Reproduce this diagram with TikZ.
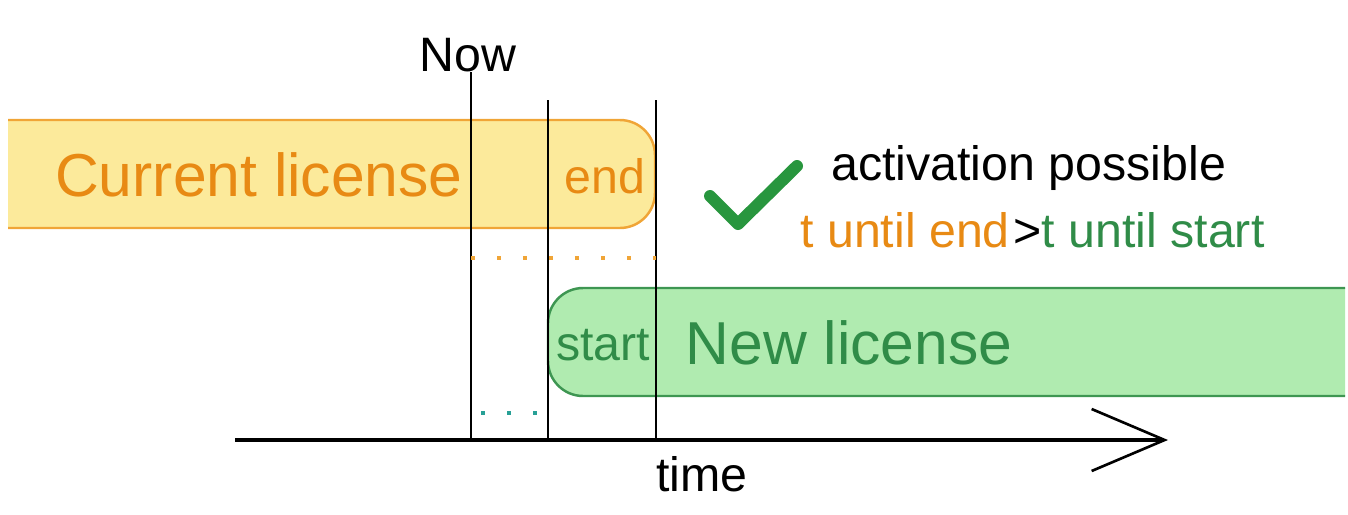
\documentclass[tikz,border=0pt]{standalone}
\usepackage{fontspec}
\setmainfont{Liberation Sans}
\usetikzlibrary{arrows.meta}
\definecolor{curfill}{RGB}{252,234,155}
\definecolor{curline}{RGB}{240,165,55}
\definecolor{curtext}{RGB}{232,138,20}
\definecolor{newfill}{RGB}{176,235,176}
\definecolor{newline}{RGB}{62,150,82}
\definecolor{newtext}{RGB}{48,140,72}
\definecolor{okgreen}{RGB}{40,150,62}
\definecolor{dotteal}{RGB}{40,160,150}

\begin{document}
\begin{tikzpicture}[x=0.02cm, y=-0.02cm,
  big/.style={font=\fontsize{34.5}{40}\selectfont, inner sep=0pt},
  small/.style={font=\fontsize{27.5}{32}\selectfont, inner sep=0pt},
  timeline/.style={line width=1.5pt, black},
  dots/.style={line width=2pt, dash pattern=on 0.08cm off 0.44cm}]
\useasboundingbox (0,0) rectangle (1348,514);

% license bars
\fill[curfill] (8,120) [rounded corners=20] -- (655,120) -- (655,228) [sharp corners] -- (8,228) -- cycle;
\draw[curline, line width=1.4pt] (8,120) [rounded corners=20] -- (655,120) -- (655,228) [sharp corners] -- (8,228);
\fill[newfill] (1345,288) [rounded corners=20] -- (548,288) -- (548,396) [sharp corners] -- (1345,396) -- cycle;
\draw[newline, line width=1.4pt] (1345,288) [rounded corners=20] -- (548,288) -- (548,396) [sharp corners] -- (1345,396);

\node[big, text=curtext] (cur) at (259,175) {Current license};
\node[small, text=curtext] (end) at (605,176) {end};
\node[small, text=newtext] (start) at (603,345) {start};
\node[big, text=newtext] (new) at (849,343) {New license};

% time axis and markers
\coordinate (t0) at (235,440);
\coordinate (t1) at (1168,440);
\draw[line width=1.8pt, -{Straight Barb[length=1.46cm, width=1.24cm, line width=1.5pt]}] (t0) -- (t1);
\node[small] (now) at (468,55) {Now};
\node[small] (time) at (702,474) {time};

\coordinate (now top) at (471,72);
\coordinate (now bot) at (471,440);
\coordinate (start top) at (548,100);
\coordinate (start bot) at (548,440);
\coordinate (end top) at (656,100);
\coordinate (end bot) at (656,440);
\draw[timeline] (now top) -- (now bot);
\draw[timeline] (start top) -- (start bot);
\draw[timeline] (end top) -- (end bot);

\draw[dots, curline] (471,258) -- (656,258);
\draw[dots, dotteal] (481,413) -- (545,413);

% condition
\draw[okgreen, line width=0.24cm, line cap=round, line join=round] (710,196) -- (738,224) -- (797,166);
\node[small, anchor=west] (act) at (831,168) {activation possible};
\node[small, anchor=west] (cond) at (800,230) {\textcolor{curtext}{t until end}\kern2pt>\textcolor{newtext}{t until start}};
\end{tikzpicture}
\end{document}
